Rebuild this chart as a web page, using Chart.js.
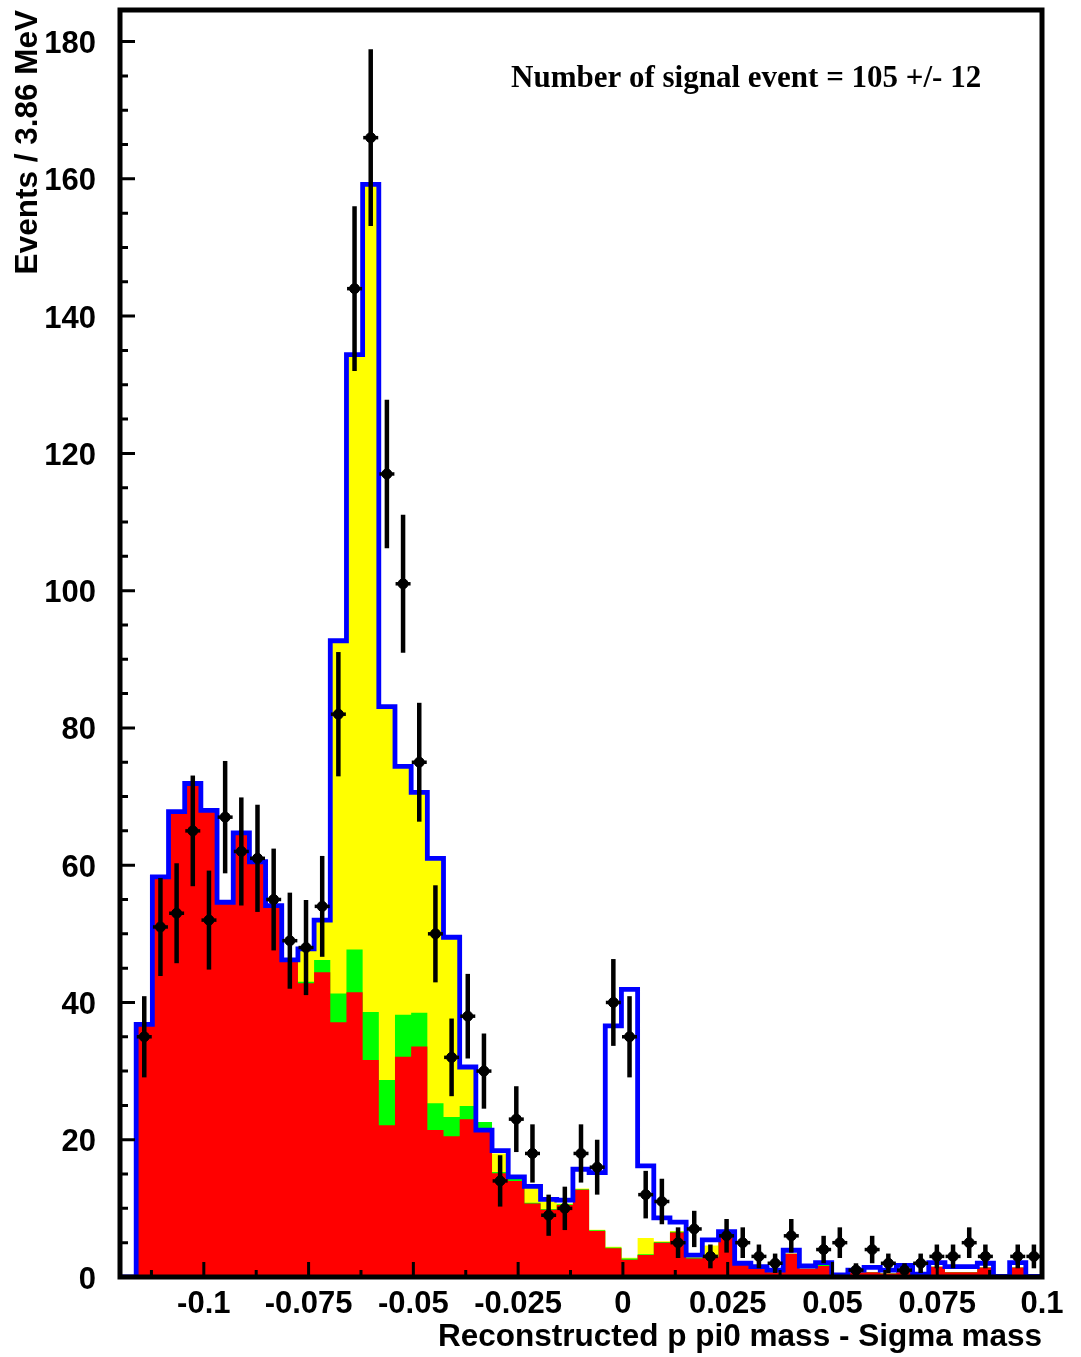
<!DOCTYPE html>
<html>
<head>
<meta charset="utf-8">
<script src="https://cdn.jsdelivr.net/npm/chart.js@4.4.1/dist/chart.umd.min.js"></script>
<style>
  body { margin: 0; background: #fff; }
  canvas { display: block; }
</style>
</head>
<body>
<canvas id="grafico" width="1081" height="1357"></canvas>
<script>
// binning: 57 bins of 3.86 MeV from -0.12 to 0.1
const xMin = -0.12, xMax = 0.1, nBins = 57;
const binW = (xMax - xMin) / nBins;

// data counts per bin (null = empty bin, no marker)
const counts = [null, 35, 51, 53, 65, 52, 67, 62, 61, 55,
  49, 48, 54, 82, 144, 166, 117, 101, 75, 50,
  32, 38, 30, 14, 23, 18, 9, 10, 18, 16,
  40, 35, 12, 11, 5, 7, 3, 6, 5, 3,
  2, 6, null, 4, 5, 1, 4, 2, 1, 2,
  3, 3, 5, 3, null, 3, 3];

// total fit (blue outline)
const totalFit = [0, 36.8, 58.3, 67.8, 71.9, 68.0, 54.6, 64.7, 60.5, 54.1,
  46.2, 47.8, 52.0, 92.7, 134.4, 159.2, 83.1, 74.4, 70.6, 61.0,
  49.5, 30.6, 21.4, 18.4, 14.6, 13.2, 11.3, 11.2, 15.7, 15.2,
  36.6, 41.9, 16.2, 8.6, 8.0, 3.2, 5.4, 6.6, 2.0, 1.5,
  1.0, 3.9, 1.6, 2.1, 0.3, 1.0, 1.4, 1.0, 1.7, 0.4,
  2.1, 1.5, 1.5, 2.0, 0.1, 2.1, 0.1];

// stacked components, cumulative tops
const redTop = [0, 36.8, 58.3, 67.8, 71.9, 68.0, 54.6, 64.7, 60.5, 54.1,
  46.2, 42.8, 44.4, 37.1, 41.5, 31.6, 22.1, 32.1, 33.6, 21.4,
  20.5, 23.0, 21.3, 15.1, 14.0, 10.7, 9.8, 10.5, 12.7, 6.7,
  4.2, 2.5, 3.2, 5.0, 6.5, 2.7, 2.9, 6.1, 1.8, 1.2,
  0.7, 3.4, 1.2, 1.6, 0.2, 0.7, 0.7, 0.5, 1.0, 0.4,
  1.5, 0.7, 0.7, 1.4, 0, 1.4, 0];

const greenTop = [0, 36.8, 58.3, 67.8, 71.9, 68.0, 54.6, 64.7, 60.5, 54.1,
  46.2, 43.0, 46.2, 41.3, 47.7, 38.6, 28.7, 38.2, 38.5, 25.3,
  23.3, 24.9, 22.6, 15.3, 14.3, 10.8, 9.9, 10.6, 12.8, 6.8,
  4.3, 2.7, 3.3, 5.1, 6.6, 2.8, 3.0, 6.2, 1.8, 1.2,
  0.7, 3.4, 1.2, 2.2, 0.2, 0.7, 0.7, 0.5, 1.0, 0.4,
  1.5, 0.7, 0.7, 1.4, 0, 1.4, 0];

const yellowTop = [0, 36.8, 58.3, 67.8, 71.9, 68.0, 54.6, 64.7, 60.5, 54.1,
  46.2, 47.8, 52.0, 92.7, 134.4, 159.2, 83.1, 74.4, 70.6, 61.0,
  49.5, 30.6, 22.6, 18.0, 14.6, 13.2, 11.0, 10.7, 12.9, 6.9,
  4.4, 2.8, 5.7, 5.2, 6.7, 2.9, 4.6, 6.3, 1.8, 1.2,
  0.7, 3.4, 1.2, 2.2, 0.2, 0.7, 0.7, 0.5, 1.0, 0.4,
  1.5, 0.7, 0.7, 1.4, 0, 1.4, 0];

const xTicks = [-0.1, -0.075, -0.05, -0.025, 0, 0.025, 0.05, 0.075, 0.1];
const yTicks = [0, 20, 40, 60, 80, 100, 120, 140, 160, 180];
const yMax = 184.6;

const signalText = "Number of signal event = 105 +/- 12";

// histogram outline as points at bin low edges, closed down to 0 at the end
function histPoints(vals) {
  const pts = vals.map((v, i) => ({ x: xMin + i * binW, y: v }));
  pts.push({ x: xMax, y: vals[vals.length - 1] });
  pts.push({ x: xMax, y: 0 });
  return pts;
}

const dataPts = [];
counts.forEach((n, i) => {
  if (n !== null) dataPts.push({ x: xMin + (i + 0.5) * binW, y: n });
});

/* error bars, ticks inside the frame, frame and label */
const rootStyle = {
  id: 'rootStyle',
  afterDatasetsDraw(chart) {
    const { ctx, scales: { x, y } } = chart;
    ctx.save();
    ctx.strokeStyle = '#000';
    dataPts.forEach(p => {
      const err = Math.sqrt(p.y);
      const px = x.getPixelForValue(p.x);
      const py = y.getPixelForValue(p.y);
      ctx.lineWidth = 4.5;
      ctx.beginPath();
      ctx.moveTo(px, y.getPixelForValue(p.y + err));
      ctx.lineTo(px, y.getPixelForValue(Math.max(p.y - err, 0)));
      ctx.stroke();
      ctx.lineWidth = 3.5;
      ctx.beginPath();
      ctx.moveTo(px - 7.5, py);
      ctx.lineTo(px + 7.5, py);
      ctx.stroke();
    });
    ctx.restore();
  },
  afterDraw(chart) {
    const { ctx, chartArea: a, scales: { x, y } } = chart;
    ctx.save();
    ctx.strokeStyle = '#000';
    ctx.lineWidth = 3;
    ctx.beginPath();
    // y ticks, minor every 5
    for (let v = 0; v <= yMax; v += 5) {
      const py = y.getPixelForValue(v);
      const len = v % 20 === 0 ? 15 : 8;
      ctx.moveTo(a.left, py);
      ctx.lineTo(a.left + len, py);
    }
    // x ticks, minor every 0.0125
    for (let k = -9; k <= 8; k++) {
      const v = k * 0.0125;
      const px = x.getPixelForValue(v);
      const len = k % 2 === 0 ? 15 : 7;
      ctx.moveTo(px, a.bottom);
      ctx.lineTo(px, a.bottom - len);
    }
    ctx.stroke();
    ctx.lineWidth = 5;
    ctx.strokeRect(a.left, a.top, a.right - a.left, a.bottom - a.top);

    ctx.fillStyle = '#000';
    ctx.font = 'bold 31px "Liberation Serif", "Times New Roman", serif';
    ctx.textAlign = 'left';
    ctx.textBaseline = 'alphabetic';
    ctx.fillText(signalText, 511, 87);
    ctx.restore();
  }
};

const fonteTicks = { family: '"Liberation Sans", Arial, sans-serif', weight: 'bold', size: 31 };
const fonteTitulo = { family: '"Liberation Sans", Arial, sans-serif', weight: 'bold', size: 31.5 };

new Chart(document.getElementById('grafico'), {
  type: 'scatter',
  data: {
    datasets: [
      {
        label: 'data',
        data: dataPts,
        backgroundColor: '#000',
        borderColor: '#000',
        pointRadius: 5,
        pointHoverRadius: 5
      },
      {
        label: 'total',
        data: histPoints(totalFit),
        showLine: true,
        stepped: 'before',
        borderColor: '#0000ff',
        borderWidth: 4.8,
        pointRadius: 0,
        fill: false
      },
      {
        label: 'red',
        data: histPoints(redTop),
        showLine: true,
        stepped: 'before',
        borderWidth: 0,
        pointRadius: 0,
        backgroundColor: '#ff0000',
        fill: 'origin'
      },
      {
        label: 'green',
        data: histPoints(greenTop),
        showLine: true,
        stepped: 'before',
        borderWidth: 0,
        pointRadius: 0,
        backgroundColor: '#00ff00',
        fill: 'origin'
      },
      {
        label: 'yellow',
        data: histPoints(yellowTop),
        showLine: true,
        stepped: 'before',
        borderWidth: 0,
        pointRadius: 0,
        backgroundColor: '#ffff00',
        fill: 'origin'
      }
    ]
  },
  options: {
    responsive: false,
    animation: false,
    layout: { padding: { top: 10, right: 39, left: 0, bottom: 0 } },
    plugins: { legend: { display: false }, tooltip: { enabled: false } },
    scales: {
      x: {
        type: 'linear',
        min: xMin,
        max: xMax,
        grid: { display: false, drawTicks: false },
        border: { display: false },
        afterBuildTicks: s => { s.ticks = xTicks.map(v => ({ value: v })); },
        afterFit: s => { s.height = 80; s.paddingLeft = 0; s.paddingRight = 0; },
        ticks: {
          autoSkip: false,
          maxRotation: 0,
          padding: 9,
          color: '#000',
          font: fonteTicks,
          callback: v => String(Number(v.toFixed(3)))
        },
        title: {
          display: true,
          text: 'Reconstructed p pi0 mass - Sigma mass',
          align: 'end',
          color: '#000',
          font: fonteTitulo,
          padding: { top: 0, bottom: 1 }
        }
      },
      y: {
        min: 0,
        max: yMax,
        grid: { display: false, drawTicks: false },
        border: { display: false },
        afterBuildTicks: s => { s.ticks = yTicks.map(v => ({ value: v })); },
        afterFit: s => { s.width = 120; s.paddingTop = 0; s.paddingBottom = 0; },
        ticks: {
          padding: 24,
          labelOffset: 3,
          color: '#000',
          font: fonteTicks
        },
        title: {
          display: true,
          text: 'Events / 3.86 MeV',
          align: 'end',
          color: '#000',
          font: fonteTitulo,
          padding: { top: 9, bottom: 0 }
        }
      }
    }
  },
  plugins: [rootStyle]
});
</script>
</body>
</html>
